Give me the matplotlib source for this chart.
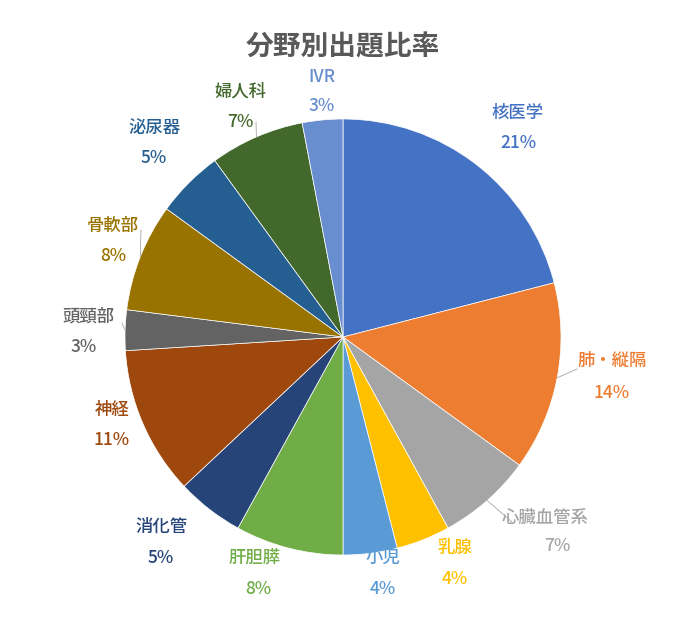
import numpy as np
import matplotlib.pyplot as plt

plt.rcParams['font.family'] = ['Noto Sans CJK JP', 'DejaVu Sans']

# data (clockwise from 12 o'clock)
labels = ['核医学', '肺・縦隔', '心臓血管系', '乳腺', '小児', '肝胆膵', '消化管',
          '神経', '頭頸部', '骨軟部', '泌尿器', '婦人科', 'IVR']
values = [21, 14, 7, 4, 4, 8, 5, 11, 3, 8, 5, 7, 3]
colors = ['#4472C4', '#ED7D31', '#A5A5A5', '#FFC000', '#5B9BD5', '#70AD47', '#264478',
          '#9E480E', '#636363', '#997300', '#255E91', '#43682B', '#698ED0']

# label placement in image pixels (name line center, percent line center)
W, H = 694, 617
cx, cy, R = 343, 337, 218
name_pos = [(518, 113), (612, 361), (545, 518), (455, 548), (383, 558), (255, 558),
            (161, 527), (112, 410), (88, 317), (113, 226), (154, 128), (240, 92), (322, 77)]
pct_pos = [(518, 143), (612, 393), (557, 546), (455, 579), (383, 589), (258, 589),
           (161, 558), (112, 440), (84, 347), (113, 256), (154, 158), (240, 122), (322, 106)]
# leader line end points (pixels), None = no leader
leader_end = [None, (577, 369), (512, 522), None, None, None, None,
              None, (122, 323), (141, 230), None, (256, 122), None]


def px(p):
    return ((p[0] - cx) / R, (cy - p[1]) / R)


fig = plt.figure(figsize=(W / 100, H / 100), dpi=100)
ax = fig.add_axes([0, 0, 1, 1])

wedges, _ = ax.pie(values, colors=colors, startangle=90, counterclock=False,
                   radius=1, center=(0, 0),
                   wedgeprops=dict(edgecolor='white', linewidth=0.5))

# pie() resets the limits, so set them afterwards
ax.set_xlim(-cx / R, (W - cx) / R)
ax.set_ylim(-(H - cy) / R, cy / R)
ax.set_aspect('equal')
ax.axis('off')

total = sum(values)
for i, w in enumerate(wedges):
    pct = f'{values[i] / total * 100:.0f}%'
    x1, y1 = px(name_pos[i])
    x2, y2 = px(pct_pos[i])
    ax.text(x1, y1, labels[i], color=colors[i], fontsize=12.5, ha='center', va='center',
            fontweight='medium')
    ax.text(x2, y2, pct, color=colors[i], fontsize=12.5, ha='center', va='center',
            fontweight='medium')
    if leader_end[i] is not None:
        ang = np.deg2rad((w.theta1 + w.theta2) / 2)
        sx, sy = np.cos(ang), np.sin(ang)
        ex, ey = px(leader_end[i])
        ax.plot([sx, ex], [sy, ey], color='#A6A6A6', lw=0.6)

ax.text(0, cy / R - 47 / R, '分野別出題比率', color='#595959', fontsize=20,
        fontweight='bold', ha='center', va='center')

fig.savefig('out.png', dpi=100, facecolor='white')
